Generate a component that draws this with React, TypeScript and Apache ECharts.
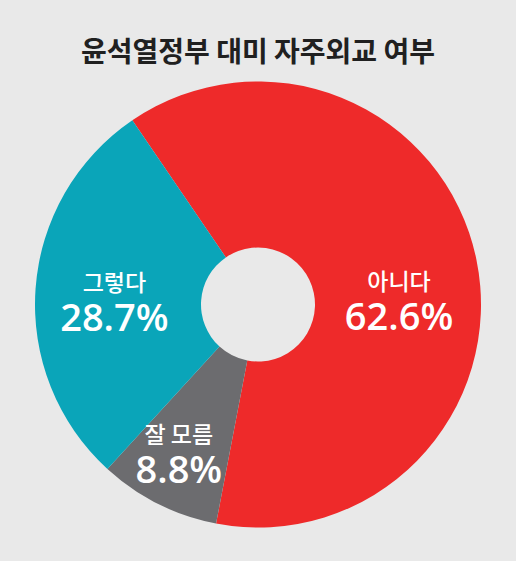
import React, { useEffect, useRef } from "react";
import * as echarts from "echarts";

const titleText = "윤석열정부 대미 자주외교 여부";
const categories = ["아니다", "잘 모름", "그렇다"];
const values = [62.6, 8.8, 28.7];
const colors = ["#ee2a2a", "#6c6c6f", "#0aa5b9"];

export default function App() {
  const ref = useRef<HTMLDivElement>(null);

  useEffect(() => {
    if (!ref.current) return;
    const chart = echarts.init(ref.current, null, { renderer: "svg" });
    const labelShift = [
      { dx: 1, dy: 25 },
      { dx: -15, dy: 21 },
      { dx: -1, dy: 7 },
    ];
    chart.setOption({
      animation: false,
      backgroundColor: "#e9e9e9",
      title: {
        text: titleText,
        left: "center",
        top: 31,
        textStyle: {
          fontFamily: "Noto Sans CJK KR",
          fontWeight: "bold",
          fontSize: 28,
          color: "#202020",
        },
      },
      series: [
        {
          type: "pie",
          center: [258, 304.5],
          radius: [57, 223],
          startAngle: 124.3,
          clockwise: true,
          avoidLabelOverlap: false,
          itemStyle: { borderWidth: 0 },
          emphasis: { disabled: true },
          data: categories.map((name, i) => ({
            name,
            value: values[i],
            itemStyle: { color: colors[i] },
          })),
          label: {
            show: true,
            position: "inside",
            formatter: (p: any) => `{n|${p.name}}\n{v|${p.value.toFixed(1)}%}`,
            rich: {
              n: {
                fontFamily: "Noto Sans CJK KR",
                fontSize: 23,
                fontWeight: 500,
                color: "#ffffff",
                lineHeight: 30,
                align: "center",
              },
              v: {
                fontFamily: "Open Sans",
                fontSize: 38,
                fontWeight: 600,
                color: "#ffffff",
                lineHeight: 40,
                align: "center",
              },
            },
          },
          labelLine: { show: false },
          labelLayout: (p: any) => {
            const s = labelShift[p.dataIndex];
            return { dx: s.dx, dy: s.dy };
          },
        },
      ],
    });
    return () => chart.dispose();
  }, []);

  return (
    <div
      ref={ref}
      style={{ position: "fixed", left: 0, top: 0, width: 516, height: 561 }}
    />
  );
}
